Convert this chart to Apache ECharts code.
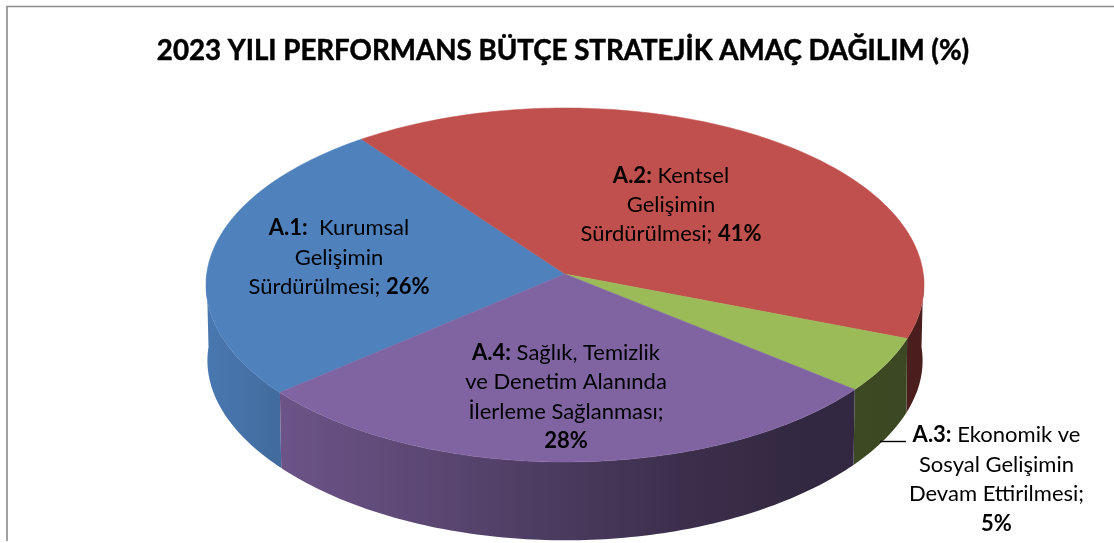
<!DOCTYPE html>
<html>
<head>
<meta charset="utf-8">
<style>html,body{margin:0;padding:0;background:#fff}#c{width:1114px;height:543px}</style>
<script src="https://cdn.jsdelivr.net/npm/echarts@6/dist/echarts.min.js"></script>
</head>
<body>
<div id="c"></div>
<script>
// ---- data ----
const titleText = '2023 YILI PERFORMANS BÜTÇE STRATEJİK AMAÇ DAĞILIM (%)';
const categories = ['A.1', 'A.2', 'A.3', 'A.4'];
const values = [26, 41, 5, 28];
const labelLines = [
  ['{b|A.1:}  Kurumsal', 'Gelişimin', 'Sürdürülmesi; {b|26%}'],
  ['{b|A.2:} Kentsel', 'Gelişimin', 'Sürdürülmesi; {b|41%}'],
  ['{b|A.3:} Ekonomik ve', 'Sosyal Gelişimin', 'Devam Ettirilmesi;', '{b|5%}'],
  ['{b|A.4:} Sağlık, Temizlik', 've Denetim Alanında', 'İlerleme Sağlanması;', '{b|28%}']
];
const colors = ['#4f81bd', '#c0504d', '#9bbb59', '#8064a2'];

// ---- layout ----
const startDeg = 220.2;                 // angle of the first slice's leading edge, clockwise
const topRim = {cx: 565, cy: 285, rx: 358.3, a: 177, b: 11, k: 0.0621, squeeze: 0};
const botRim = {cx: 565, cy: 361, rx: 356.5, a: 179, b: 14, k: 0.08, squeeze: 10};
const labelAnchors = [[339, 257.5], [671, 205], [996.5, 479.5], [566, 397]];
const labelFont = 22, labelLine = 29.4;
const shadeStops = [[0, .93], [.1, .84], [.33, .7], [.5, .58], [.66, .47], [.83, .40], [1, .38]];
const shadeX = [205, 925];

const total = values.reduce((s, v) => s + v, 0);
function sliceRange(i) {
  let before = 0;
  for (let j = 0; j < i; j++) before += values[j];
  return [startDeg - before / total * 360, startDeg - (before + values[i]) / total * 360];
}
// the part of a slice's wall that faces the viewer (lower half of the rim)
function frontRange(a, b) {
  if (b < 0) return [Math.min(a, 0), b];
  if (a > 180) return [a, Math.max(b, 180)];
  return null;
}
function project(r, deg) {
  const t = deg * Math.PI / 180, s = Math.sin(t), c = Math.cos(t), d = 1 + r.k * s;
  return [r.cx + (r.rx - r.squeeze * s * s) * c / d, r.cy - (r.a * s + r.b) / d];
}
function rim(r, from, to) {
  const n = Math.max(2, Math.ceil(Math.abs(to - from)));
  const pts = [];
  for (let i = 0; i <= n; i++) pts.push(project(r, from + (to - from) * i / n));
  return pts;
}
function shade(hex, f) {
  const n = parseInt(hex.slice(1), 16);
  const ch = [n >> 16 & 255, n >> 8 & 255, n & 255].map(v => Math.round(v * f));
  return 'rgb(' + ch.join(',') + ')';
}
const idx = categories.map((c, i) => [i, values[i], c]);

const chart = echarts.init(document.getElementById('c'), null, {renderer: 'canvas'});
chart.setOption({
  animation: false,
  backgroundColor: '#ffffff',
  title: {
    text: titleText,
    left: 558, top: 32, textAlign: 'center',
    textStyle: {fontFamily: 'Lato', fontWeight: 'bold', fontSize: 27.7, color: '#000',
                textBorderColor: '#000', textBorderWidth: 0.5}
  },
  graphic: [
    {type: 'polyline', silent: true, shape: {points: [[7, 541], [7, 6.5], [1114, 6.5]]},
     style: {stroke: '#8a8a8a', lineWidth: 1.6, fill: 'none'}},
    {type: 'line', silent: true, z: 20, shape: {x1: 880, y1: 441.5, x2: 906, y2: 441.5},
     style: {stroke: '#000', lineWidth: 1.4}}
  ],
  series: [
    {
      type: 'custom', name: 'side', coordinateSystem: 'none', silent: true, z: 2, data: idx,
      renderItem(params, api) {
        const i = api.value(0), [a, b] = sliceRange(i);
        const front = frontRange(a, b);
        if (!front) return null;
        const points = rim(topRim, front[0], front[1]).concat(rim(botRim, front[1], front[0]));
        const grad = new echarts.graphic.LinearGradient(shadeX[0], 0, shadeX[1], 0,
          shadeStops.map(([o, f]) => ({offset: o, color: shade(colors[i], f)})), true);
        return {type: 'polygon', shape: {points}, style: {fill: grad}};
      }
    },
    {
      type: 'custom', name: 'top', coordinateSystem: 'none', silent: true, z: 3, data: idx,
      renderItem(params, api) {
        const i = api.value(0), [a, b] = sliceRange(i);
        const apex = [topRim.cx, topRim.cy - topRim.b];
        return {type: 'polygon', shape: {points: [apex].concat(rim(topRim, a, b))},
                style: {fill: colors[i], stroke: colors[i], lineWidth: 0.5}};
      }
    },
    {
      type: 'custom', name: 'labels', coordinateSystem: 'none', silent: true, z: 4, data: idx,
      renderItem(params, api) {
        const i = api.value(0);
        return {
          type: 'text',
          x: labelAnchors[i][0], y: labelAnchors[i][1],
          style: {
            text: labelLines[i].join('\n'),
            fontFamily: 'Lato', fontSize: labelFont, lineHeight: labelLine, fill: '#000',
            align: 'center', verticalAlign: 'middle',
            rich: {b: {fontFamily: 'Lato', fontSize: labelFont, lineHeight: labelLine, fontWeight: 'bold', fill: '#000'}}
          }
        };
      }
    }
  ]
});
</script>
</body>
</html>
